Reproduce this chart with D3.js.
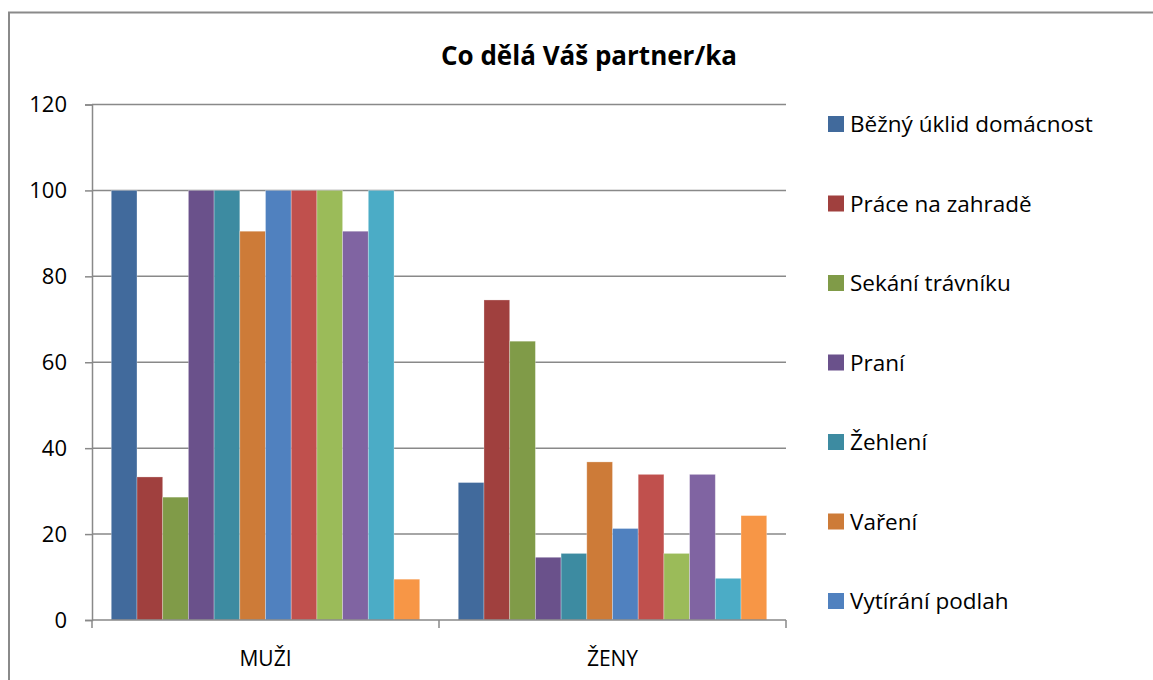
<!DOCTYPE html>
<html>
<head>
<meta charset="utf-8">
<script src="https://cdn.jsdelivr.net/npm/d3@7"></script>
<style>
  body { margin: 0; background: #fff; }
  svg { font-family: "Open Sans", "Noto Sans", sans-serif; }
</style>
</head>
<body>
<div id="chart"></div>
<script>
// data
var categories = ['MUŽI', 'ŽENY'];
var seriesNames = ['Běžný úklid domácnost', 'Práce na zahradě', 'Sekání trávníku', 'Praní',
    'Žehlení', 'Vaření', 'Vytírání podlah', 'Řada 8', 'Řada 9', 'Řada 10', 'Řada 11', 'Řada 12'];
var muziValues = [100, 33.3, 28.6, 100, 100, 90.5, 100, 100, 100, 90.5, 100, 9.5];
var zenyValues = [32, 74.5, 64.9, 14.6, 15.5, 36.8, 21.3, 33.9, 15.5, 33.9, 9.7, 24.3];
var seriesColors = ['#416A9C', '#A0403E', '#809B48', '#6A518B', '#3D8BA1', '#CD7B38',
    '#5081BF', '#C0504D', '#9BBB59', '#8064A2', '#4BACC6', '#F79646'];
var legendCount = 7; // only the first seven fit into the legend
var yTicks = [0, 20, 40, 60, 80, 100, 120];

var width = 1153, height = 680;
var plot = { left: 92, right: 786, top: 104.5, bottom: 620 };
var gridColor = '#898989';

var svg = d3.select('#chart').append('svg')
    .attr('width', width)
    .attr('height', height);

// outer chart border
svg.append('path')
    .attr('d', 'M9,' + (height + 5) + 'V12.5H' + (width + 5))
    .attr('fill', 'none')
    .attr('stroke', '#8a8a8a')
    .attr('stroke-width', 2);

// title
svg.append('text')
    .attr('x', 589)
    .attr('y', 65)
    .attr('text-anchor', 'middle')
    .style('font-size', '26px')
    .style('font-weight', 'bold')
    .text('Co dělá Váš partner/ka');

var x0 = d3.scaleBand()
    .domain(categories)
    .range([plot.left, plot.right]);

var x1 = d3.scaleBand()
    .domain(d3.range(seriesNames.length))
    .range([0, x0.bandwidth()])
    .paddingOuter(0.75);

var y = d3.scaleLinear()
    .domain([0, 120])
    .range([plot.bottom, plot.top]);

// gridlines
svg.append('g')
    .selectAll('line')
    .data(yTicks.filter(d => d > 0))
    .join('line')
    .attr('x1', plot.left)
    .attr('x2', plot.right)
    .attr('y1', d => y(d))
    .attr('y2', d => y(d))
    .attr('stroke', gridColor)
    .attr('stroke-width', 1.5);

// bars
var rows = categories.map((c, i) => ({ cat: c, values: i === 0 ? muziValues : zenyValues }));

svg.append('g')
    .selectAll('g')
    .data(rows)
    .join('g')
    .attr('transform', d => 'translate(' + x0(d.cat) + ',0)')
    .selectAll('rect')
    .data(d => d.values.map((v, i) => ({ i: i, v: v })))
    .join('rect')
    .attr('x', d => x1(d.i))
    .attr('width', x1.bandwidth())
    .attr('y', d => y(d.v))
    .attr('height', d => y(0) - y(d.v))
    .attr('fill', d => seriesColors[d.i])
    .attr('stroke', '#ffffff')
    .attr('stroke-opacity', 0.35)
    .attr('stroke-width', 0.8);

// y axis
var yAxis = svg.append('g')
    .attr('transform', 'translate(' + plot.left + ',0)')
    .call(d3.axisLeft(y).tickValues(yTicks).tickSize(7).tickPadding(18));
yAxis.select('.domain').attr('stroke', gridColor).attr('stroke-width', 1.5);
yAxis.selectAll('.tick line').attr('stroke', gridColor).attr('stroke-width', 1.5);
yAxis.selectAll('text')
    .attr('fill', '#000')
    .style('font-size', '22px')
    .style('font-family', '"Open Sans", sans-serif');

// x axis with ticks between the categories
var xAxis = svg.append('g')
    .attr('transform', 'translate(0,' + plot.bottom + ')');
xAxis.append('line')
    .attr('x1', plot.left).attr('x2', plot.right)
    .attr('stroke', gridColor).attr('stroke-width', 1.5);
xAxis.selectAll('.sep')
    .data([plot.left, x0('ŽENY'), plot.right])
    .join('line')
    .attr('class', 'sep')
    .attr('x1', d => d).attr('x2', d => d)
    .attr('y1', 0).attr('y2', 8)
    .attr('stroke', gridColor).attr('stroke-width', 1.5);
xAxis.selectAll('text')
    .data(categories)
    .join('text')
    .attr('x', d => x0(d) + x0.bandwidth() / 2)
    .attr('y', 46)
    .attr('text-anchor', 'middle')
    .style('font-size', '21px')
    .text(d => d);

// legend
var legend = svg.append('g')
    .selectAll('g')
    .data(seriesNames.slice(0, legendCount))
    .join('g')
    .attr('transform', (d, i) => 'translate(828,' + (124 + i * 79.5) + ')');
legend.append('rect')
    .attr('x', 0).attr('y', -8)
    .attr('width', 16).attr('height', 16)
    .attr('fill', (d, i) => seriesColors[i]);
legend.append('text')
    .attr('x', 22)
    .attr('y', 8)
    .style('font-size', '22.5px')
    .text(d => d);
</script>
</body>
</html>
